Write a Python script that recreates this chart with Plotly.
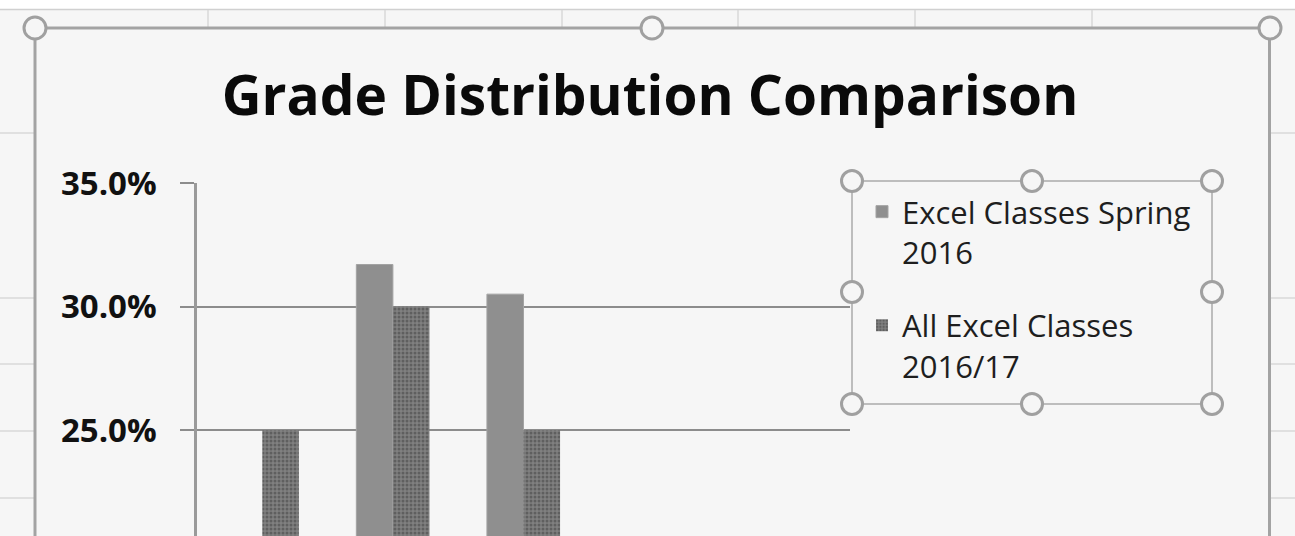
import plotly.graph_objects as go

# ---- data ----
grades = ["A", "B", "C", "D", "F"]
spring_2016 = [0.171, 0.317, 0.305, 0.122, 0.085]
all_2016_17 = [0.250, 0.300, 0.250, 0.120, 0.080]
series_names = ["Excel Classes Spring<br>2016", "All Excel Classes<br>2016/17"]
y_ticks = [0.25, 0.30, 0.35]
title_text = "Grade Distribution Comparison"

W, H = 1295, 536
FONT = "Open Sans, Calibri, Carlito, sans-serif"

def px(x):
    return x / W

def py(y):
    return 1 - y / H

fig = go.Figure()
fig.add_trace(go.Bar(
    x=grades, y=spring_2016, name=series_names[0], legendgroup="a",
    marker=dict(color="#8f8f8f", line=dict(color="#a3a3a3", width=1)),
))
fig.add_trace(go.Bar(
    x=grades, y=all_2016_17, name=series_names[1], legendgroup="b",
    marker=dict(color="#787878", line=dict(width=0),
                pattern=dict(shape=".", bgcolor="#808080", fgcolor="#5f5f5f",
                             size=4, solidity=0.45, fillmode="replace")),
))

shapes = []
bg = "#f6f6f6"
grid_sheet = "#d9d9d9"
# white strip at the top of the sheet view
shapes.append(dict(type="rect", xref="paper", yref="paper", x0=0, x1=1, y0=py(9), y1=1.01,
                   fillcolor="white", line=dict(width=0), layer="below"))
shapes.append(dict(type="line", xref="paper", yref="paper", x0=0, x1=1, y0=py(9.5), y1=py(9.5),
                   line=dict(color="#d0d0d0", width=1.5), layer="below"))
for xv in [208, 385, 562, 738, 915, 1092]:
    shapes.append(dict(type="line", xref="paper", yref="paper", x0=px(xv), x1=px(xv),
                       y0=py(10), y1=py(28), line=dict(color=grid_sheet, width=1.5), layer="below"))
for yv in [133, 298, 364, 431, 498]:
    shapes.append(dict(type="line", xref="paper", yref="paper", x0=0, x1=px(34), y0=py(yv), y1=py(yv),
                       line=dict(color=grid_sheet, width=1.5), layer="below"))
    shapes.append(dict(type="line", xref="paper", yref="paper", x0=px(1271), x1=1, y0=py(yv), y1=py(yv),
                       line=dict(color=grid_sheet, width=1.5), layer="below"))
# chart area
shapes.append(dict(type="rect", xref="paper", yref="paper", x0=px(35), x1=px(1269.5), y0=py(560), y1=py(28),
                   fillcolor=bg, line=dict(color="#a3a3a3", width=3), layer="below"))
# legend box
shapes.append(dict(type="rect", xref="paper", yref="paper", x0=px(852), x1=px(1212), y0=py(404), y1=py(181),
                   fillcolor="rgba(0,0,0,0)", line=dict(color="#ababab", width=1.5), layer="above"))

def handle(cx, cy, r=11):
    return dict(type="circle", xref="paper", yref="paper", x0=px(cx - r), x1=px(cx + r),
                y0=py(cy + r), y1=py(cy - r), fillcolor=bg, line=dict(color="#a0a0a0", width=3),
                layer="above")

for cx, cy in [(35, 28), (652, 28), (1270, 28)]:
    shapes.append(handle(cx, cy))
for cx, cy in [(852, 181), (1032, 181), (1212, 181), (852, 292), (1212, 292),
               (852, 404), (1032, 404), (1212, 404)]:
    shapes.append(handle(cx, cy, 10.5))

axis_col = "#8c8c8c"
fig.update_layout(
    width=W, height=H,
    margin=dict(l=0, r=0, t=0, b=0, autoexpand=False),
    paper_bgcolor=bg, plot_bgcolor="rgba(0,0,0,0)",
    barmode="group", bargap=0.44, bargroupgap=0,
    title=dict(text="<b>" + title_text + "</b>", x=px(650), xref="container", xanchor="center",
               y=py(96), yref="container", yanchor="middle", automargin=False,
               font=dict(family=FONT, size=55, color="#0a0a0a")),
    xaxis=dict(domain=[px(197), px(850)], visible=False, automargin=False),
    yaxis=dict(domain=[0, py(183)], range=[0.35 - (536 - 183) / 24.7 / 100, 0.35],
               automargin=False,
               tickvals=y_ticks, tickformat=".1%",
               showgrid=True, gridcolor=axis_col, gridwidth=2,
               showline=True, linecolor="#9a9a9a", linewidth=2.5,
               ticks="outside", ticklen=14, tickwidth=2, tickcolor=axis_col,
               ticklabelstandoff=17, zeroline=False,
               tickfont=dict(family=FONT, size=33, color="#111111", weight="bold")),
    legend=dict(x=px(862), y=py(185), xanchor="left", yanchor="top", valign="top",
                bgcolor="rgba(0,0,0,0)", borderwidth=0, tracegroupgap=30,
                font=dict(family=FONT, size=31, color="#1e1e1e")),
    shapes=shapes,
    showlegend=True,
)

fig.write_html("out.html",
               config={"displayModeBar": False},
               post_script="document.body.style.margin='0';document.body.style.overflow='hidden';")
